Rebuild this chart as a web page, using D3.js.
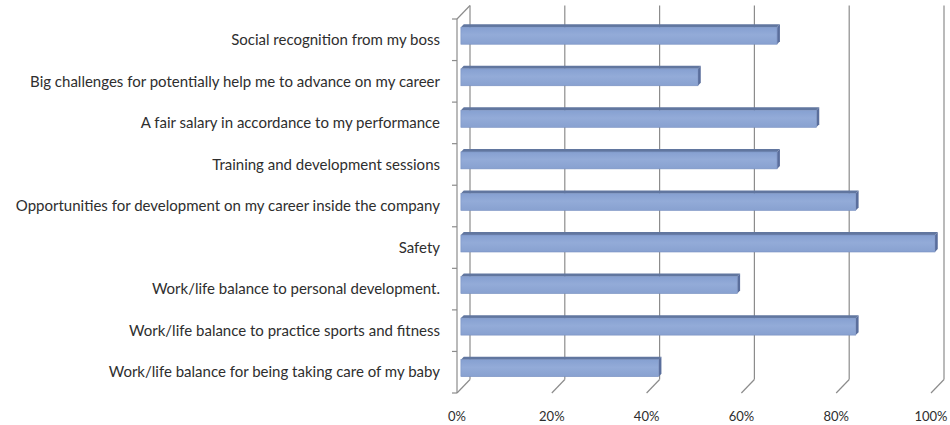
<!DOCTYPE html>
<html>
<head>
<meta charset="utf-8">
<script src="https://cdn.jsdelivr.net/npm/d3@7"></script>
<style>
  html, body { margin: 0; padding: 0; background: #fff; }
  svg { display: block; }
  text { font-family: Lato, "Open Sans", sans-serif; fill: #2e2e2e; }
</style>
</head>
<body>
<svg id="chart" width="950" height="425"></svg>
<script>
// Survey: share of respondents naming each factor
const categories = [
  "Social recognition from my boss",
  "Big challenges for potentially  help me to advance on my career",
  "A fair salary in accordance to my performance ",
  "Training and development sessions",
  "Opportunities for development on my career inside the company",
  "Safety",
  "Work/life balance to personal development.",
  "Work/life balance to practice sports and fitness",
  "Work/life balance for being taking care of my baby"
];
const values = [66.7, 50, 75, 66.7, 83.3, 100, 58.3, 83.3, 41.7];
const tickValues = [0, 20, 40, 60, 80, 100];
const tickLabels = ["0%", "20%", "40%", "60%", "80%", "100%"];

const svg = d3.select("#chart");

// Front plane of the 3-D plot box
const x = d3.scaleLinear().domain([0, 100]).range([457, 931]);
const y = d3.scaleBand().domain(categories).range([19, 393]);

// Depth projection: z in [0,1] from front to back wall
const DX = 13, DY = -13.5;
const p = (px, py, z) => [px + z * DX, py + z * DY];
const poly = pts => pts.map(d => d.join(",")).join(" ");

const grid = "#8c8c8c";
const yTop = y.range()[0], yBot = y.range()[1];

// Back wall gridlines and floor diagonals
const g = svg.append("g").attr("fill", "none").attr("stroke", grid).attr("stroke-width", 1.2);
tickValues.forEach(v => {
  const [bx, bt] = p(x(v), yTop, 1);
  const [, bb] = p(x(v), yBot, 1);
  g.append("line").attr("x1", bx).attr("y1", bt).attr("x2", bx).attr("y2", bb);
  g.append("line").attr("x1", x(v)).attr("y1", yBot).attr("x2", bx).attr("y2", bb);
});

// Left wall edges
g.append("line").attr("x1", x(0)).attr("y1", yTop).attr("x2", x(0)).attr("y2", yBot);
{
  const [bx, bt] = p(x(0), yTop, 1);
  g.append("line").attr("x1", x(0)).attr("y1", yTop).attr("x2", bx).attr("y2", bt);
}

// Category tick marks on the left edge
categories.concat([null]).forEach((c, i) => {
  const ty = c ? y(c) : yBot;
  g.append("line").attr("x1", x(0) - 5).attr("y1", ty).attr("x2", x(0)).attr("y2", ty);
});

// Bars as 3-D boxes
const z0 = 0.3, z1 = 0.52;
const barH = 17;
const defs = svg.append("defs");
const grad = defs.append("linearGradient").attr("id", "barFront")
  .attr("x1", 0).attr("y1", 0).attr("x2", 0).attr("y2", 1);
grad.append("stop").attr("offset", "0%").attr("stop-color", "#86a0d1");
grad.append("stop").attr("offset", "45%").attr("stop-color", "#93abd8");
grad.append("stop").attr("offset", "100%").attr("stop-color", "#88a1d0");

const bars = svg.append("g");
categories.forEach((c, i) => {
  const v = values[i];
  const cy = y(c) + y.bandwidth() / 2;
  const yt = cy - barH / 2, yb = cy + barH / 2;
  const x0 = x(0), x1 = x(v);
  const b = bars.append("g");
  // top face
  b.append("polygon")
    .attr("points", poly([p(x0, yt, z0), p(x1, yt, z0), p(x1, yt, z1), p(x0, yt, z1)]))
    .attr("fill", "#61769f");
  // end face
  b.append("polygon")
    .attr("points", poly([p(x1, yt, z0), p(x1, yb, z0), p(x1, yb, z1), p(x1, yt, z1)]))
    .attr("fill", "#5a6e9c");
  // front face
  const [fx, fy] = p(x0, yt, z0);
  const [fx1] = p(x1, yt, z0);
  b.append("rect")
    .attr("x", fx).attr("y", fy)
    .attr("width", fx1 - fx).attr("height", barH)
    .attr("fill", "url(#barFront)")
    .attr("stroke", "#7890c0").attr("stroke-width", 0.6);
});

// Category labels
svg.append("g").selectAll("text").data(categories).join("text")
  .attr("x", 440)
  .attr("y", d => y(d) + y.bandwidth() / 2)
  .attr("dy", "0.35em")
  .attr("text-anchor", "end")
  .attr("font-size", 15)
  .text(d => d);

// Value axis labels
svg.append("g").selectAll("text").data(tickValues).join("text")
  .attr("x", d => x(d))
  .attr("y", 421)
  .attr("text-anchor", "middle")
  .attr("font-size", 13)
  .text((d, i) => tickLabels[i]);
</script>
</body>
</html>
